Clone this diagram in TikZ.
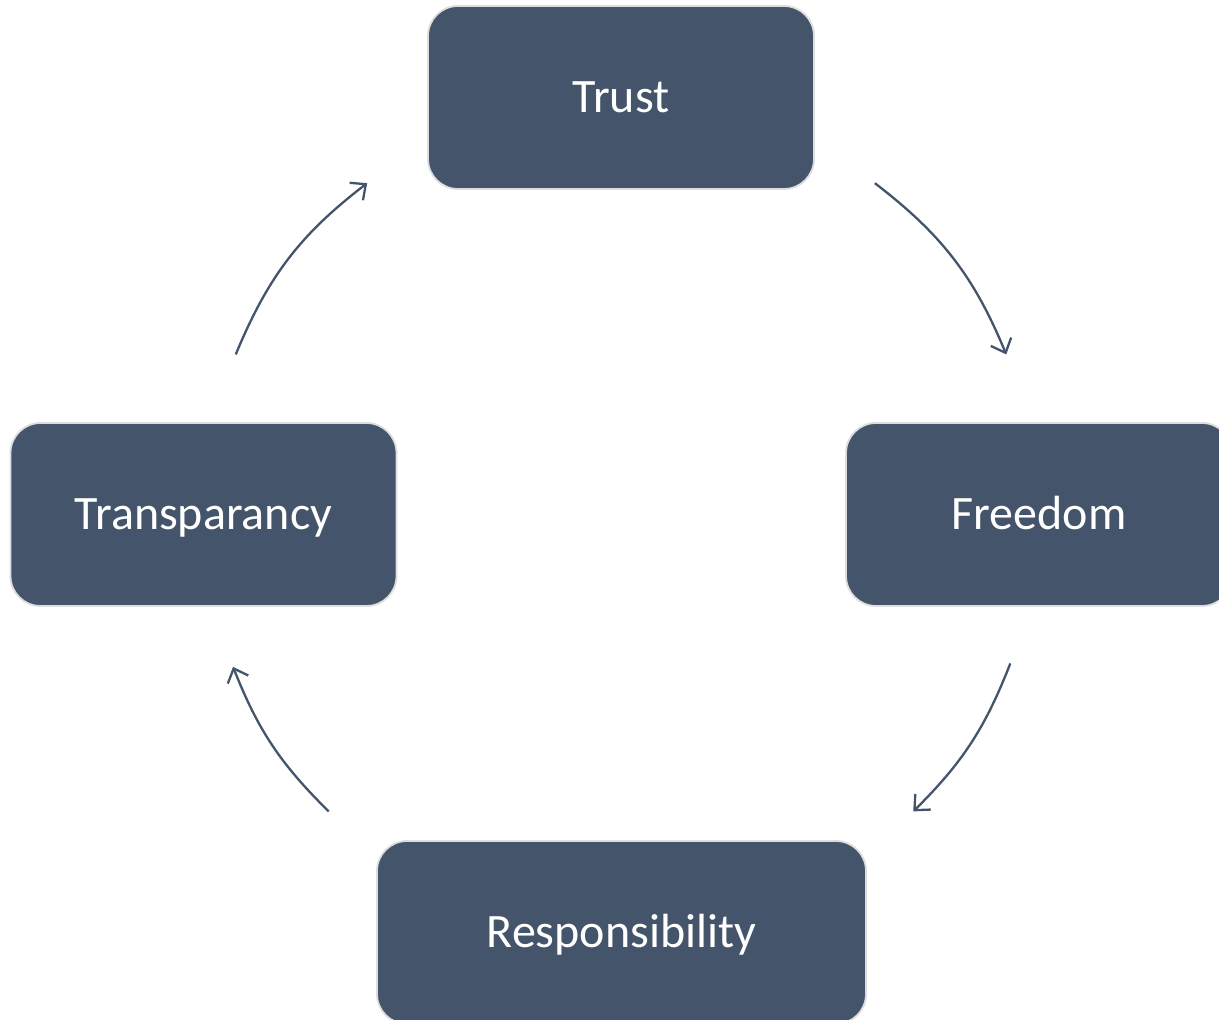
\documentclass[tikz,border=0pt]{standalone}
\usepackage{fontspec}
\setmainfont{Carlito}
\usetikzlibrary{arrows.meta}
\definecolor{slate}{HTML}{44546A}
\definecolor{rim}{HTML}{DDDDDD}
\begin{document}
\begin{tikzpicture}[x=0.5pt,y=0.5pt,
  stage/.style={draw=rim, line width=0.9pt, fill=slate, rounded corners=15pt,
    minimum width=193pt, minimum height=91.5pt, text=white,
    text height=18pt, text depth=2.5pt,
    font=\fontsize{24}{29}\selectfont},
  cyc/.style={draw=slate, line width=1.15pt, -{Straight Barb[length=6pt,width=11pt]}}]
\useasboundingbox (0,0) rectangle (1219,1020);
\node[stage] (trust) at (621,922.5) {Trust};
\node[stage] (freedom) at (1039,505.5) {Freedom};
\node[stage] (transp) at (203.5,505.5) {Transparancy};
\node[stage, minimum width=244.5pt] (resp) at (621.5,87.5) {Responsibility};

\coordinate (hub) at (621,506);
\path (hub) ++(52.5:417) coordinate (t-out) (hub) ++(22.5:417) coordinate (f-in);
\path (hub) ++(-21:417) coordinate (f-out) (hub) ++(-45.5:417) coordinate (r-in);
\path (hub) ++(-134.5:417) coordinate (r-out) (hub) ++(-158.5:417) coordinate (p-in);
\path (hub) ++(157.5:417) coordinate (p-out) (hub) ++(127.5:417) coordinate (t-in);

\path[cyc] (t-out) to[bend left=15] (f-in);
\path[cyc] (f-out) to[bend left=12] (r-in);
\path[cyc] (r-out) to[bend left=12] (p-in);
\path[cyc] (p-out) to[bend left=15] (t-in);
\end{tikzpicture}
\end{document}
